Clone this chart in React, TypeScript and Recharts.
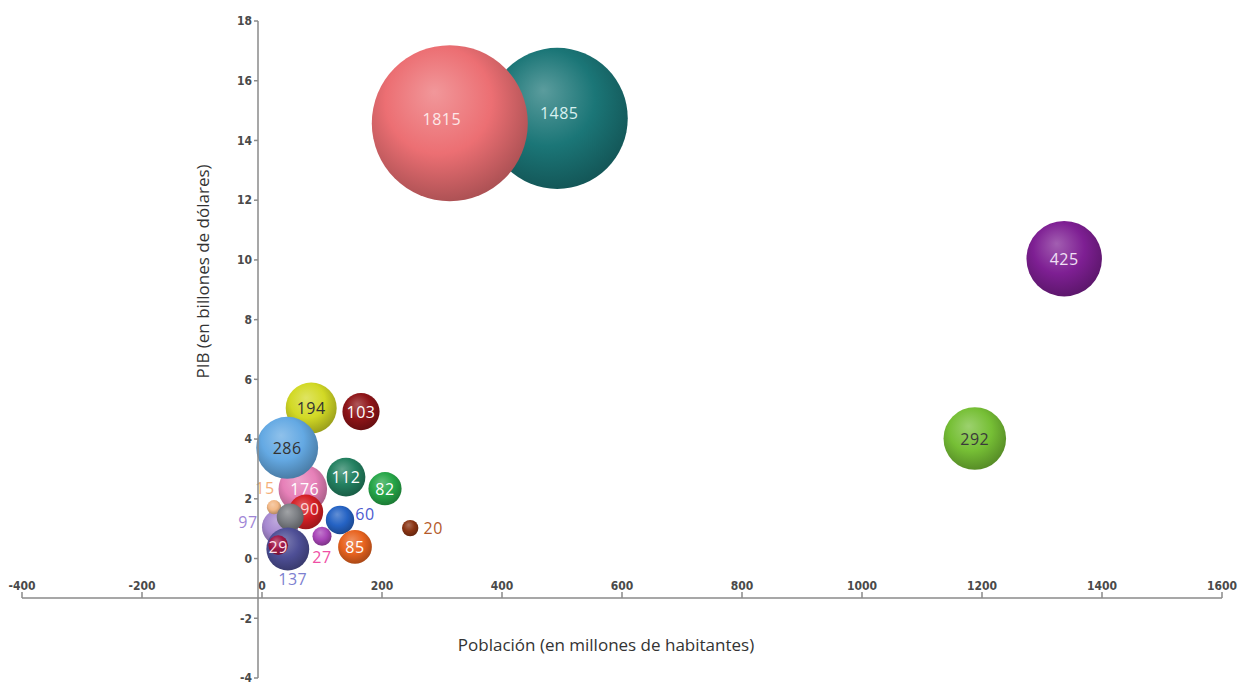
import { ScatterChart, Scatter, XAxis, YAxis, ZAxis } from 'recharts'

// Bubbles in drawing order (later ones sit on top)
const LABELS = ['1485', '1815', '425', '292', '194', '103', '112', '82', '97', '15', '176', '286', '90', '', '137', '29', '27', '60', '85', '20']
const POPULATION = [492, 313, 1337, 1188, 82, 165, 140, 205, 30, 20, 68, 42, 73, 47, 43, 27, 100, 130, 155, 247]
const GDP = [14.74, 14.58, 10.04, 4.02, 5.04, 4.92, 2.73, 2.34, 1.05, 1.72, 2.33, 3.71, 1.56, 1.39, 0.32, 0.45, 0.75, 1.29, 0.39, 1.02]
const SIZE = [1485, 1815, 425, 292, 194, 103, 112, 82, 97, 15, 176, 286, 90, 54, 137, 29, 27, 60, 85, 20]

const X_TICKS = [-400, -200, 0, 200, 400, 600, 800, 1000, 1200, 1400, 1600]
const Y_TICKS = [-4, -2, 0, 2, 4, 6, 8, 10, 12, 14, 16, 18]

const COLORS = ['#1b7677', '#ec6f73', '#7e1f93', '#76bf35', '#d2d925', '#8e1417', '#238060', '#26a648', '#a688d0', '#f2b886', '#e680b8', '#64a9e3', '#d41e24', '#7c7f84', '#4e4f96', '#a01848', '#a946b8', '#2563c4', '#e8631f', '#8a3413']
const LABEL_COLORS = ['#d8f0f0', '#fde8e8', '#f0e0f5', '#3a3a3a', '#333333', '#ffffff', '#ffffff', '#ffffff', '#9f86d6', '#f5b07a', '#ffffff', '#333333', '#fbd5d5', '#ffffff', '#7d7fd0', '#fde0ea', '#ef4fa5', '#4b5bd0', '#ffffff', '#b45a2a']
// label offset from bubble centre, px
const LABEL_OFFSETS: [number, number][] = [[2, -5], [-8, -4], [0, 0], [0, 0], [0, 0], [0, 0], [0, 0], [0, 0], [-32, -5], [-9, -19], [2, 0], [0, 0], [4, -3], [0, 0], [5, 30], [0, 2], [0, 21], [25, -6], [0, 0], [23, 0]]

const rows = LABELS.map((label, i) => ({ i, label, x: POPULATION[i], y: GDP[i], z: SIZE[i] }))

const mix = (hex: string, to: string, t: number) => {
  const a = parseInt(hex.slice(1), 16)
  const b = parseInt(to.slice(1), 16)
  const ch = (s: number) => Math.round(((a >> s) & 255) * (1 - t) + ((b >> s) & 255) * t)
  return `rgb(${ch(16)},${ch(8)},${ch(0)})`
}

function Bubble(props: any) {
  const { cx, cy, payload } = props
  const r = props.width ? props.width / 2 : Math.sqrt(props.size / Math.PI)
  const i = payload.i
  const base = COLORS[i]
  const id = `bub${i}`
  const [dx, dy] = LABEL_OFFSETS[i]
  return (
    <g>
      <defs>
        <radialGradient id={id} cx="45%" cy="40%" r="62%" fx="40%" fy="30%">
          <stop offset="0%" stopColor={mix(base, '#ffffff', 0.28)} />
          <stop offset="55%" stopColor={base} />
          <stop offset="100%" stopColor={mix(base, '#000000', 0.28)} />
        </radialGradient>
      </defs>
      <circle cx={cx} cy={cy} r={r} fill={`url(#${id})`} />
      {payload.label && (
        <text
          x={cx + dx}
          y={cy + dy}
          textAnchor="middle"
          dominantBaseline="central"
          fill={LABEL_COLORS[i]}
          fontSize={16}
          letterSpacing={0.5}
          fontFamily="'Open Sans', sans-serif"
        >
          {payload.label}
        </text>
      )}
    </g>
  )
}

const tickStyle = { fill: '#4a4a4a', fontSize: 12, fontWeight: 700, fontFamily: "'Liberation Sans Narrow', 'DejaVu Sans Condensed', sans-serif" }
const axisStroke = { stroke: '#8a8a8a', strokeWidth: 1.5 }
const titleStyle = { fill: '#333', fontSize: 17, fontFamily: "'Open Sans', sans-serif" }
const layer = { position: 'absolute' as const, left: 0, top: 0 }

export default function App() {
  return (
    <div style={{ position: 'absolute', left: 0, top: 0, width: 1240, height: 682, background: '#fff', overflow: 'hidden' }}>
      {/* bubbles + horizontal axis (x axis crosses below y = 0, at about -1.3) */}
      <div style={layer}>
        <ScatterChart width={1240} height={682} margin={{ top: 21, right: 18, bottom: 84, left: 22 }}>
          <XAxis
            type="number"
            dataKey="x"
            domain={[-400, 1600]}
            ticks={X_TICKS}
            mirror
            height={30}
            interval={0}
            tick={tickStyle}
            tickSize={6}
            tickLine={axisStroke}
            axisLine={axisStroke}
            label={{ value: 'Población (en millones de habitantes)', position: 'bottom', offset: 41, dx: -16, ...titleStyle }}
          />
          <YAxis type="number" dataKey="y" domain={[-1.32, 18]} allowDataOverflow hide />
          <ZAxis type="number" dataKey="z" domain={[0, 1815]} range={[0, Math.PI * 78 * 78]} />
          <Scatter data={rows} shape={Bubble} isAnimationActive={false} />
        </ScatterChart>
      </div>

      {/* vertical axis at x = 0 */}
      <div style={layer}>
        <ScatterChart width={1240} height={682} margin={{ top: 21, right: 10, bottom: 4, left: 148 }}>
          <XAxis type="number" domain={[0, 1]} allowDataOverflow hide />
          <YAxis
            type="number"
            domain={[-4, 18]}
            allowDataOverflow
            ticks={Y_TICKS}
            width={110}
            tick={tickStyle}
            tickSize={4}
            tickLine={axisStroke}
            axisLine={axisStroke}
            interval={0}
            label={{ value: 'PIB (en billones de dólares)', angle: -90, position: 'center', dy: -78, ...titleStyle }}
          />
        </ScatterChart>
      </div>
    </div>
  )
}
